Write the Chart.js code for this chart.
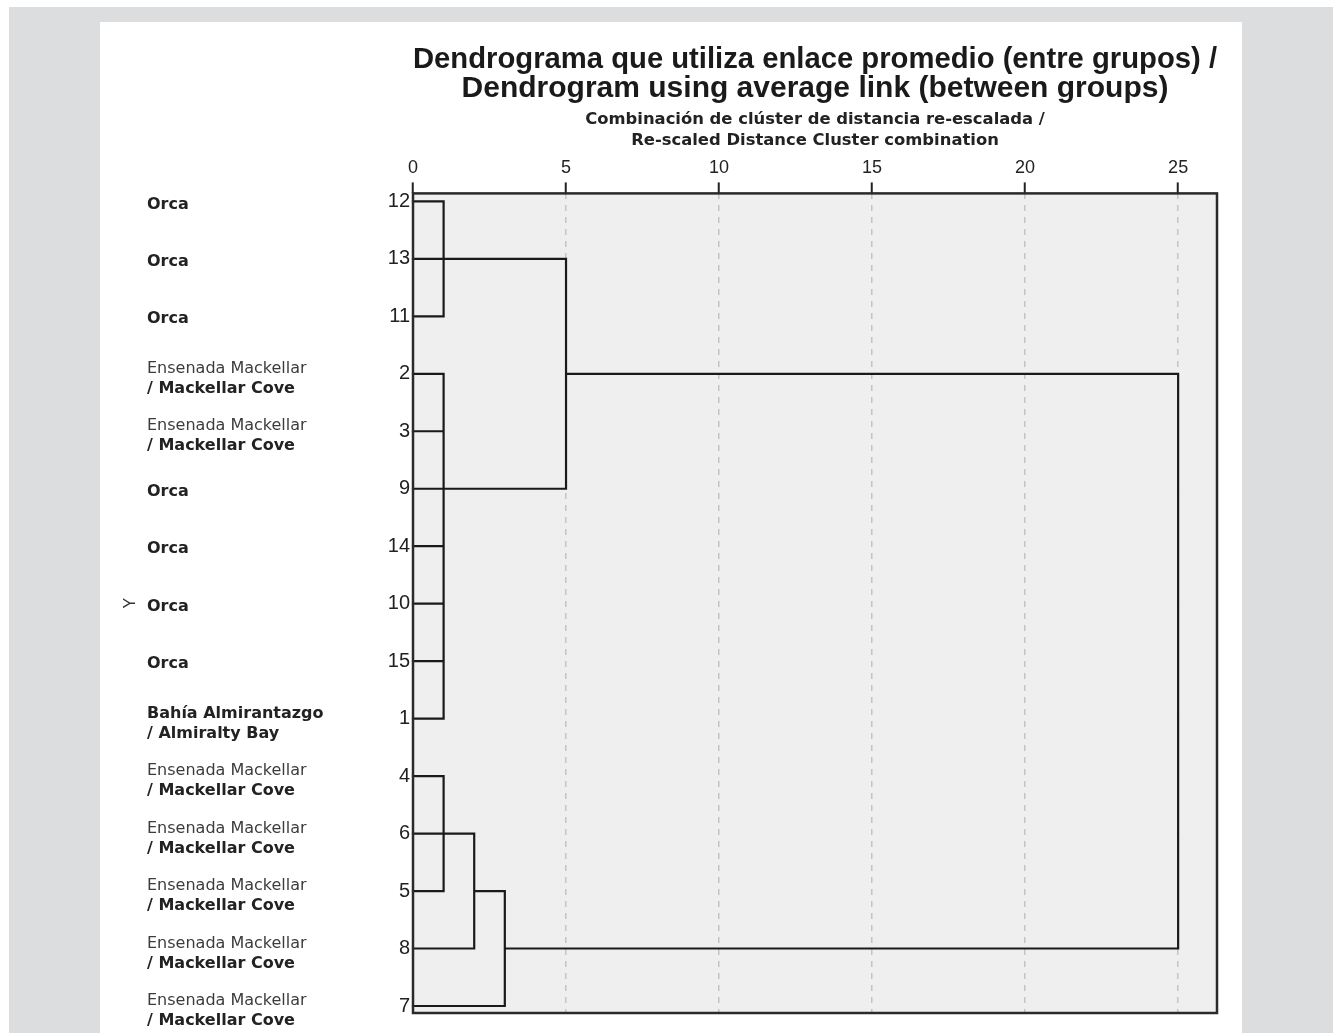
<!DOCTYPE html>
<html>
<head>
<meta charset="utf-8">
<title>Dendrograma</title>
<script src="https://cdn.jsdelivr.net/npm/chart.js@4.4.0/dist/chart.umd.min.js"></script>
<style>
    html, body { margin: 0; padding: 0; background: #fff; }
    #bg { position: absolute; left: 9px; top: 7px; width: 1324px; height: 1026px; background: #dcdddf; }
    #panel { position: absolute; left: 100px; top: 22px; width: 1142px; height: 1011px; background: #fff; }
    #panel canvas { display: block; }
</style>
</head>
<body>
<div id="bg"></div>
<div id="panel"><canvas id="chart-dendro" width="1142" height="1011"></canvas></div>
<script>
// cases, top to bottom, as they appear on the plot
var rowIds = ['12', '13', '11', '2', '3', '9', '14', '10', '15', '1', '4', '6', '5', '8', '7'];
var rowNames = [
    'Orca', 'Orca', 'Orca',
    'Ensenada Mackellar\n/ Mackellar Cove',
    'Ensenada Mackellar\n/ Mackellar Cove',
    'Orca', 'Orca', 'Orca', 'Orca',
    'Bahía Almirantazgo\n/ Almiralty Bay',
    'Ensenada Mackellar\n/ Mackellar Cove',
    'Ensenada Mackellar\n/ Mackellar Cove',
    'Ensenada Mackellar\n/ Mackellar Cove',
    'Ensenada Mackellar\n/ Mackellar Cove',
    'Ensenada Mackellar\n/ Mackellar Cove'
];
var xTicks = [0, 5, 10, 15, 20, 25];

// merges (re-scaled distance), their members and the row the joined cluster leaves from
var mergeIds = ['c1', 'c2', 'c3', 'c4', 'c5', 'c6', 'c7'];
var mergeDist = [1, 1, 5, 1, 2, 3, 25];
var mergeMembers = [
    ['12', '13', '11'],
    ['2', '3', '9', '14', '10', '15', '1'],
    ['c1', 'c2'],
    ['4', '6', '5'],
    ['c4', '8'],
    ['c5', '7'],
    ['c3', 'c6']
];
var mergeOutRow = ['13', '9', '2', '6', '5', '8', '2'];

var LABEL_X = 47;

function rowOf(id) {
    var k = mergeIds.indexOf(id);
    return rowIds.indexOf(k < 0 ? id : mergeOutRow[k]);
}

function startOf(id) {
    var k = mergeIds.indexOf(id);
    return k < 0 ? 0 : mergeDist[k];
}

function buildLinks() {
    var pts = [];
    mergeIds.forEach(function(id, k) {
        var d = mergeDist[k];
        var rows = mergeMembers[k].map(rowOf);
        mergeMembers[k].forEach(function(m, j) {
            pts.push({x: startOf(m), y: rows[j]}, {x: d, y: rows[j]}, {x: null, y: null});
        });
        pts.push({x: d, y: Math.min.apply(null, rows)}, {x: d, y: Math.max.apply(null, rows)}, {x: null, y: null});
    });
    return pts;
}

var plotFrame = {
    id: 'plotFrame',
    beforeDraw: function(chart) {
        var a = chart.chartArea, ctx = chart.ctx;
        ctx.save();
        ctx.fillStyle = '#efefef';
        ctx.fillRect(a.left, a.top, a.right - a.left, a.bottom - a.top);
        ctx.restore();
    },
    afterDatasetsDraw: function(chart) {
        var a = chart.chartArea, ctx = chart.ctx;
        ctx.save();
        ctx.strokeStyle = '#2a2a2a';
        ctx.lineWidth = 2.5;
        ctx.strokeRect(a.left, a.top, a.right - a.left, a.bottom - a.top);
        ctx.restore();
    },
    afterDraw: function(chart) {
        var ctx = chart.ctx, y = chart.scales.y;
        ctx.save();
        ctx.textAlign = 'left';
        ctx.textBaseline = 'middle';
        rowNames.forEach(function(name, i) {
            var py = y.getPixelForValue(i);
            var lines = name.split('\n');
            lines.forEach(function(line, j) {
                var light = line.indexOf('Ensenada') === 0;
                var off = lines.length === 1 ? 3 : (j === 0 ? -5 : 15);
                ctx.font = (light ? '' : 'bold ') + '16px "DejaVu Sans"';
                ctx.fillStyle = light ? '#3c3c3c' : '#222';
                ctx.fillText(line, LABEL_X, py + off);
            });
        });
        ctx.restore();
    }
};

Chart.defaults.font.family = '"Liberation Sans", Arial, sans-serif';

var ctx = document.getElementById('chart-dendro');
var dendro = new Chart(ctx, {
    type: 'scatter',
    data: {
        datasets: [{
            data: buildLinks(),
            showLine: true,
            spanGaps: false,
            borderColor: '#1a1a1a',
            borderWidth: 2.2,
            borderCapStyle: 'square',
            pointRadius: 0,
            pointHoverRadius: 0,
            clip: false
        }]
    },
    options: {
        responsive: false,
        animation: false,
        devicePixelRatio: 1,
        layout: { padding: { top: 0, right: 25, bottom: 20, left: 0 } },
        plugins: {
            legend: { display: false },
            tooltip: { enabled: false },
            title: {
                display: true,
                fullSize: false,
                text: ['Dendrograma que utiliza enlace promedio (entre grupos) /', 'Dendrogram using average link (between groups)'],
                font: { family: '"Liberation Sans Narrow", "Liberation Sans", Arial, sans-serif', weight: 'bold', size: 30, lineHeight: 0.94 },
                color: '#1a1a1a',
                padding: { top: 24, bottom: 0 }
            }
        },
        scales: {
            x: {
                type: 'linear',
                position: 'top',
                min: 0,
                max: 26.27,
                afterBuildTicks: function(scale) {
                    scale.ticks = xTicks.map(function(v) { return {value: v}; });
                },
                afterFit: function(scale) { scale.height = 91; },
                ticks: { font: { size: 18 }, color: '#222', padding: 4, autoSkip: false, maxRotation: 0 },
                grid: {
                    color: function(c) { return c.tick && c.tick.value === 0 ? 'transparent' : '#c4c4c4'; },
                    lineWidth: 1.5,
                    tickColor: '#222',
                    tickLength: 11,
                    tickWidth: 2,
                    tickBorderDash: []
                },
                border: { display: false, dash: [6, 6] },
                title: {
                    display: true,
                    text: ['Combinación de clúster de distancia re-escalada /', 'Re-scaled Distance Cluster combination'],
                    font: { family: '"DejaVu Sans", sans-serif', weight: 'bold', size: 16.4, lineHeight: 1.28 },
                    color: '#222',
                    padding: { top: 7, bottom: 0 }
                }
            },
            y: {
                type: 'linear',
                reverse: true,
                min: -0.139,
                max: 14.122,
                afterBuildTicks: function(scale) {
                    scale.ticks = rowIds.map(function(id, i) { return {value: i}; });
                },
                afterFit: function(scale) { scale.width = 313; },
                ticks: {
                    callback: function(v) { return rowIds[v]; },
                    font: { size: 20 },
                    color: '#222',
                    padding: 3,
                    autoSkip: false
                },
                grid: { display: false, drawTicks: false },
                border: { display: false },
                title: {
                    display: true,
                    text: 'Y',
                    font: { size: 16 },
                    color: '#333',
                    padding: { top: 21, bottom: 0 }
                }
            }
        }
    },
    plugins: [plotFrame]
});
</script>
</body>
</html>
